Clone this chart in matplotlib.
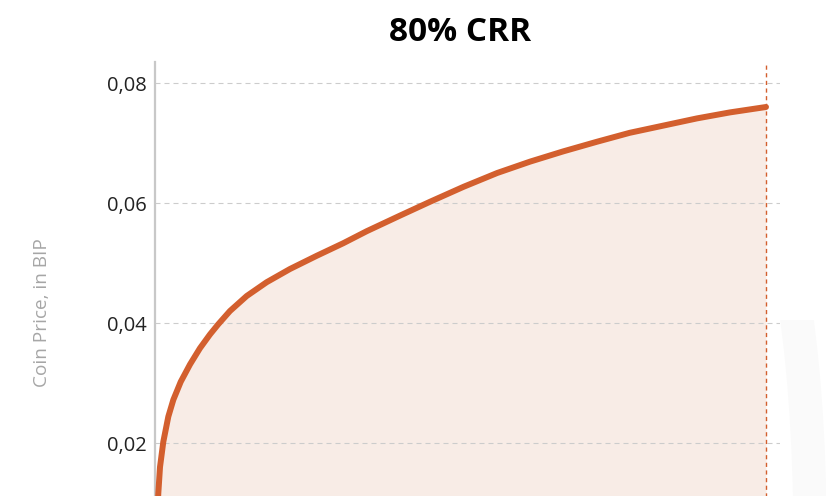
import matplotlib
matplotlib.use("Agg")
import matplotlib.pyplot as plt
from matplotlib.ticker import FuncFormatter
from matplotlib.patches import Ellipse
from matplotlib.transforms import Bbox

# Coin supply (as % of the final supply) and price in BIP
supply = [0, 0.54, 0.82, 1.36, 2.18, 3.00, 4.21, 5.73, 7.36, 9.00, 10.36,
          12.27, 15.01, 18.28, 22.09, 26.46, 30.82, 34.65, 40.1, 45.0, 50.5,
          56.0, 61.4, 66.8, 72.3, 77.7, 83.2, 88.7, 94.1, 100]
price = [0, 0.0116, 0.0160, 0.0202, 0.0244, 0.0272, 0.0302, 0.0331, 0.0358,
         0.0381, 0.0398, 0.0420, 0.0445, 0.0468, 0.0490, 0.0512, 0.0533,
         0.0553, 0.0579, 0.0602, 0.0627, 0.0650, 0.0669, 0.0686, 0.0702,
         0.0717, 0.0729, 0.0741, 0.0751, 0.0760]
y_ticks = [0.02, 0.04, 0.06, 0.08]
title = "80% CRR"
y_label = "Coin Price, in BIP"

line_color = "#d35f2e"
fill_color = "#f8ece6"

plt.rcParams["font.family"] = ["Open Sans", "DejaVu Sans"]

W, H = 826, 496
fig = plt.figure(figsize=(W / 100, H / 100), dpi=100)
fig.patch.set_facecolor("white")

# axes runs below the bottom edge of the picture (the zero line is cut off)
left, right, top, zero = 155, 780, 62, 563
ax = fig.add_axes([left / W, 1 - zero / H, (right - left) / W, (zero - top) / H])
ax.patch.set_alpha(0)

# faint decorative shape at the lower right
ring = Ellipse((745, -40), 130, 720, fill=False, edgecolor="#fafafa",
               lw=24, transform=None, zorder=0)
fig.add_artist(ring)
ring.set_clip_box(Bbox([[767, 0], [W, H - 320]]))

ax.fill_between(supply, price, 0, color=fill_color, lw=0, zorder=1)
ax.plot(supply, price, color=line_color, lw=4.3, solid_capstyle="round",
        solid_joinstyle="round", zorder=3)
ax.axvline(supply[-1], color=line_color, lw=1.0, ls=(0, (3, 2.5)), zorder=2)

ax.set_xlim(0, 100 * (right - left) / 611)
ax.set_ylim(0, 0.0835)

ax.set_yticks(y_ticks)
ax.yaxis.set_major_formatter(FuncFormatter(lambda v, p: f"{v:.2f}".replace(".", ",")))
ax.tick_params(axis="y", length=0, pad=6, labelsize=14.5, labelcolor="#222222")
ax.set_xticks([])

ax.set_axisbelow("line")
ax.yaxis.grid(True, color="#cccccc", lw=0.8, ls=(0, (4.5, 3.6)))

for side in ["top", "right", "bottom"]:
    ax.spines[side].set_visible(False)
ax.spines["left"].set_color("#c8c8c8")
ax.spines["left"].set_linewidth(1.6)

ax.set_title(title, fontsize=24, fontweight="bold", pad=15,
             x=(460 - left) / (right - left))
ax.set_ylabel(y_label, fontsize=13.7, color="#a6a6a6")
ax.yaxis.set_label_coords((51 - left) / (right - left), 0.5)

fig.savefig("out.png", dpi=100)
